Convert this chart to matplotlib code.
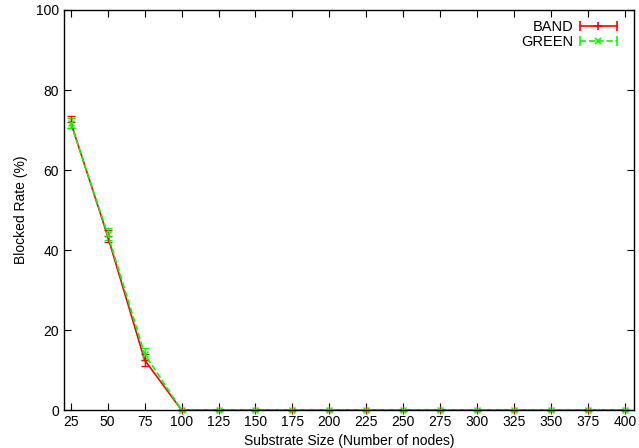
import matplotlib
matplotlib.use("Agg")
import matplotlib.pyplot as plt
from matplotlib.lines import Line2D
from matplotlib.legend_handler import HandlerBase

sizes = [25, 50, 75, 100, 125, 150, 175, 200, 225, 250, 275, 300, 325, 350, 375, 400]
band = [72.0, 43.5, 12.5, 0, 0, 0, 0, 0, 0, 0, 0, 0, 0, 0, 0, 0]
band_err = [1.5, 1.5, 1.6, 0, 0, 0, 0, 0, 0, 0, 0, 0, 0, 0, 0, 0]
green = [71.8, 44.0, 14.0, 0, 0, 0, 0, 0, 0, 0, 0, 0, 0, 0, 0, 0]
green_err = [1.2, 1.5, 1.4, 0, 0, 0, 0, 0, 0, 0, 0, 0, 0, 0, 0, 0]

plt.rcParams['font.family'] = ['Liberation Sans', 'DejaVu Sans']
fig = plt.figure(figsize=(6.39, 4.48), dpi=100)
ax = fig.add_axes([64/639, 38/448, 570/639, 400/448])

series = [
    ('BAND', band, band_err, '#ff0000', '-', '+', 6),
    ('GREEN', green, green_err, '#00ff00', '--', 'x', 5),
]
for name, vals, errs, col, ls, mk, ms in series:
    cont = ax.errorbar(sizes, vals, yerr=errs, color=col, lw=1.2, ls=ls, marker=mk, ms=ms,
                       capsize=3, elinewidth=1, label=name)
    for art in [cont[0], *cont[1], *cont[2]]:
        art.set_clip_on(False)


class HErrHandler(HandlerBase):
    def __init__(self, color, ls, marker, ms):
        super().__init__()
        self.c, self.ls, self.m, self.ms = color, ls, marker, ms

    def create_artists(self, legend, orig_handle, xdescent, ydescent, width, height, fontsize, trans):
        y = height / 2 - ydescent
        x0, x1 = -xdescent, width - xdescent
        line = Line2D([x0, x1], [y, y], color=self.c, ls=self.ls, lw=1.2, transform=trans)
        mid = Line2D([(x0 + x1) / 2], [y], color=self.c, marker=self.m, ms=self.ms, ls='none',
                     mew=1.2, transform=trans)
        caps = Line2D([x0, x1], [y, y], color=self.c, marker='|', ms=7, ls='none',
                      mew=1.2, transform=trans)
        return [line, mid, caps]


handles, labels = ax.get_legend_handles_labels()
hmap = {handles[i]: HErrHandler(s[3], s[4], s[5], s[6]) for i, s in enumerate(series)}

ax.set_xlim(20.5, 406)
ax.set_ylim(0, 100)
ax.set_xticks(sizes)
ax.set_yticks([0, 20, 40, 60, 80, 100])
ax.tick_params(direction='in', top=True, right=True, length=5, labelsize=10)
ax.set_xlabel('Substrate Size (Number of nodes)', fontsize=10, labelpad=4)
ax.set_ylabel('Blocked Rate (%)', fontsize=10, labelpad=6)
for s in ax.spines.values():
    s.set_linewidth(1)

leg = ax.legend(handles, labels, handler_map=hmap, loc='upper right',
                bbox_to_anchor=(1 - 7/570, 1.0), frameon=False,
                markerfirst=False, fontsize=10.5, handlelength=2.55, handletextpad=0.45,
                borderaxespad=0.3, labelspacing=0.05)

fig.savefig('out.png', dpi=100)
